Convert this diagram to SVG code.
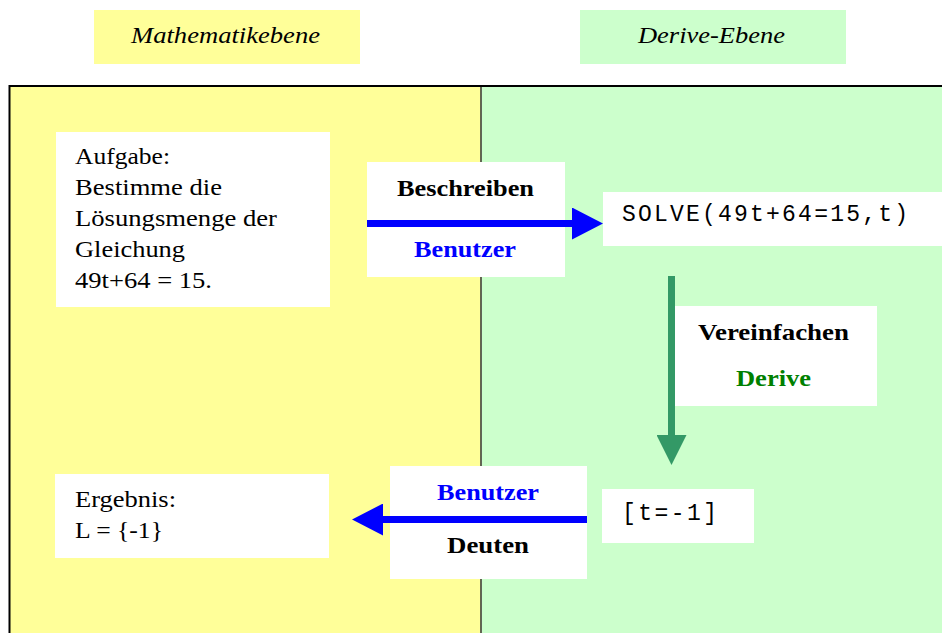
<svg xmlns="http://www.w3.org/2000/svg" width="942" height="633" viewBox="0 0 942 633">
<style>
.serif{font-family:"Liberation Serif","Times New Roman",serif;font-size:23px;fill:#000}
.it{font-style:italic}
.b{font-weight:bold}
.mono{font-family:"Liberation Mono","Courier New",monospace;font-size:23px;fill:#000}
.box{fill:#fff}
.blue{fill:#0000ff}
.grn{fill:#008000}
</style>
<defs>
<marker id="ahBlue" markerUnits="userSpaceOnUse" markerWidth="31" markerHeight="32" refX="0" refY="16" orient="auto" viewBox="0 0 31 32">
<path d="M0,0 L31,16 L0,32 Z" fill="#0000ff"/>
</marker>
<marker id="ahGreen" markerUnits="userSpaceOnUse" markerWidth="30" markerHeight="30" refX="0" refY="15" orient="auto" viewBox="0 0 30 30">
<path d="M0,0 L30,15 L0,30 Z" fill="#339966"/>
</marker>
</defs>
<rect width="942" height="633" fill="#fff"/>
<g id="header-math">
<rect x="94" y="10" width="266" height="54" fill="#ffff99"/>
<text class="serif it" x="131" y="43" textLength="189" lengthAdjust="spacingAndGlyphs">Mathematikebene</text>
</g>
<g id="header-derive">
<rect x="580" y="10" width="266" height="54" fill="#ccffcc"/>
<text class="serif it" x="638" y="43" textLength="147" lengthAdjust="spacingAndGlyphs">Derive-Ebene</text>
</g>
<g id="lanes">
<rect x="9.5" y="85" width="472" height="560" fill="#ffff99"/>
<rect x="481.5" y="85" width="470" height="560" fill="#ccffcc"/>
<line x1="481" y1="86" x2="481" y2="633" stroke="#333" stroke-width="1.5"/>
<rect x="9.5" y="86" width="945" height="560" fill="none" stroke="#000" stroke-width="2"/>
</g>
<g id="task">
<rect class="box" x="56" y="132" width="274" height="175"/>
<text class="serif" x="75" y="164" textLength="95" lengthAdjust="spacingAndGlyphs">Aufgabe:</text>
<text class="serif" x="75" y="195" textLength="147" lengthAdjust="spacingAndGlyphs">Bestimme die</text>
<text class="serif" x="75" y="226" textLength="202" lengthAdjust="spacingAndGlyphs">Lösungsmenge der</text>
<text class="serif" x="75" y="257" textLength="110" lengthAdjust="spacingAndGlyphs">Gleichung</text>
<text class="serif" x="75" y="288" textLength="137" lengthAdjust="spacingAndGlyphs">49t+64 = 15.</text>
</g>
<g id="beschreiben">
<rect class="box" x="367" y="162" width="198" height="115"/>
<text class="serif b" x="397" y="196" textLength="137" lengthAdjust="spacingAndGlyphs">Beschreiben</text>
<text class="serif b blue" x="414" y="257" textLength="102" lengthAdjust="spacingAndGlyphs">Benutzer</text>
</g>
<g id="solve">
<rect class="box" x="603" y="192" width="340" height="54"/>
<text class="mono" x="622" y="221" textLength="286" lengthAdjust="spacing">SOLVE(49t+64=15,t)</text>
</g>
<g id="vereinfachen">
<rect class="box" x="675" y="306" width="202" height="100"/>
<text class="serif b" x="698" y="340" textLength="151" lengthAdjust="spacingAndGlyphs">Vereinfachen</text>
<text class="serif b grn" x="736" y="386" textLength="75" lengthAdjust="spacingAndGlyphs">Derive</text>
</g>
<g id="result-derive">
<rect class="box" x="602" y="489" width="152" height="54"/>
<text class="mono" x="622" y="520" textLength="95" lengthAdjust="spacing">[t=-1]</text>
</g>
<g id="deuten">
<rect class="box" x="390" y="466" width="197" height="113"/>
<text class="serif b blue" x="437" y="500" textLength="102" lengthAdjust="spacingAndGlyphs">Benutzer</text>
<text class="serif b" x="447" y="553" textLength="82" lengthAdjust="spacingAndGlyphs">Deuten</text>
</g>
<g id="ergebnis">
<rect class="box" x="55" y="474" width="274" height="84"/>
<text class="serif" x="75" y="507" textLength="101" lengthAdjust="spacingAndGlyphs">Ergebnis:</text>
<text class="serif" x="75" y="538" textLength="88" lengthAdjust="spacingAndGlyphs">L = {-1}</text>
</g>
<g id="connectors">
<line x1="367" y1="223.5" x2="572" y2="223.5" stroke="#0000ff" stroke-width="7" marker-end="url(#ahBlue)"/>
<line x1="671.5" y1="276" x2="671.5" y2="435" stroke="#339966" stroke-width="7" marker-end="url(#ahGreen)"/>
<line x1="587" y1="519.5" x2="383" y2="519.5" stroke="#0000ff" stroke-width="7" marker-end="url(#ahBlue)"/>
</g>
</svg>
